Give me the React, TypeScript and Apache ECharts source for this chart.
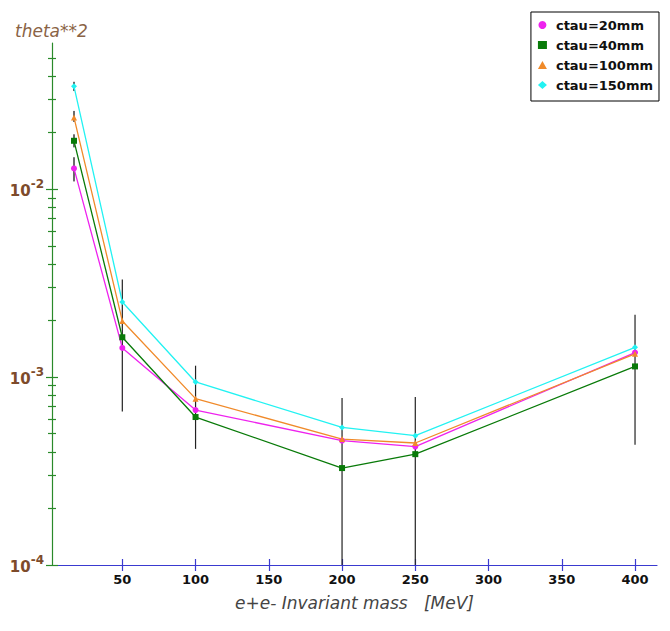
import React, { useEffect, useRef } from 'react';
import * as echarts from 'echarts';

// ---- data ----
const masses = [17, 50, 100, 200, 250, 400];
const ctau20 = [0.0129, 1.43e-3, 6.68e-4, 4.59e-4, 4.27e-4, 1.35e-3];
const ctau40 = [0.0181, 1.63e-3, 6.13e-4, 3.28e-4, 3.89e-4, 1.14e-3];
const ctau100 = [0.0241, 1.99e-3, 7.68e-4, 4.68e-4, 4.46e-4, 1.33e-3];
const ctau150 = [0.0353, 2.51e-3, 9.42e-4, 5.4e-4, 4.88e-4, 1.44e-3];
const seriesNames = ['ctau=20mm', 'ctau=40mm', 'ctau=100mm', 'ctau=150mm'];

// main error bars
const errMass = [50, 100, 200, 250, 400];
const errLow = [6.57e-4, 4.15e-4, 5e-5, 5e-5, 4.37e-4];
const errHigh = [3.31e-3, 1.15e-3, 7.74e-4, 7.84e-4, 2.15e-3];
// small error bars at the first mass point, one per series
const errSmallMass = [17, 17, 17, 17];
const errSmallLow = [0.011, 0.0167, 0.0228, 0.0333];
const errSmallHigh = [0.0148, 0.0196, 0.0261, 0.0373];

// axis ticks
const xTicks = [50, 100, 150, 200, 250, 300, 350, 400];
const yMajorTicks = [1e-4, 1e-3, 1e-2];
const yMinorTicks = [
  2e-4, 3e-4, 4e-4, 5e-4, 6e-4, 7e-4, 8e-4, 9e-4,
  2e-3, 3e-3, 4e-3, 5e-3, 6e-3, 7e-3, 8e-3, 9e-3,
  2e-2, 3e-2, 4e-2, 5e-2,
];

const X_MIN = 2;
const X_MAX = 415;
const Y_MIN = 1e-4;
const Y_MAX = 0.06;

const FONT = 'DejaVu Sans';
const BROWN = '#7d4b2b';
const GREEN_AXIS = '#2a8a2a';
const BLUE_AXIS = '#3a3ad0';

function pairs(xs: number[], ys: number[]) {
  return xs.map((x, i) => [x, ys[i]]);
}
function triples(xs: number[], lo: number[], hi: number[]) {
  return xs.map((x, i) => [x, lo[i], hi[i]]);
}

function errRender(color: string, width: number) {
  return (params: any, api: any) => {
    const x = api.value(0);
    const p1 = api.coord([x, api.value(1)]);
    const p2 = api.coord([x, api.value(2)]);
    return {
      type: 'line',
      shape: { x1: p1[0], y1: p1[1], x2: p2[0], y2: p2[1] },
      style: { stroke: color, lineWidth: width },
    };
  };
}

function yAxisBase(extra: any) {
  return {
    type: 'log',
    logBase: 10,
    min: Y_MIN,
    max: Y_MAX,
    position: 'left',
    offset: 0,
    splitLine: { show: false },
    axisLine: { show: false },
    axisLabel: { show: false },
    ...extra,
  };
}

export default function App() {
  const ref = useRef<HTMLDivElement>(null);

  useEffect(() => {
    if (!ref.current) return;
    const chart = echarts.init(ref.current, undefined, { renderer: 'svg' });
    const colors = ['#ee22ee', '#087a08', '#f08a2a', '#22f2f2'];
    const symbols = ['circle', 'rect', 'triangle', 'diamond'];
    const values = [ctau20, ctau40, ctau100, ctau150];

    const lineSeries = values.map((v, i) => ({
      name: seriesNames[i],
      type: 'line',
      data: pairs(masses, v),
      symbol: symbols[i],
      symbolSize: 6,
      showSymbol: true,
      itemStyle: { color: colors[i] },
      lineStyle: { color: colors[i], width: 1.3 },
      z: 3,
    }));

    const option: any = {
      animation: false,
      textStyle: { fontFamily: FONT },
      color: colors,
      title: {
        text: 'theta**2',
        left: 10,
        top: 17,
        textStyle: {
          fontFamily: FONT,
          fontSize: 17,
          fontStyle: 'italic',
          fontWeight: 'normal',
          color: '#8a6345',
        },
      },
      legend: {
        orient: 'vertical',
        right: 11,
        top: 12,
        data: seriesNames.map((n, i) => ({ name: n, icon: symbols[i] })),
        itemWidth: 9,
        itemHeight: 8,
        itemGap: 6,
        padding: [6, 6, 9, 7],
        borderColor: '#000',
        borderWidth: 1,
        backgroundColor: '#fff',
        textStyle: {
          fontFamily: FONT,
          fontSize: 13,
          fontWeight: 'bold',
          color: '#111',
          lineHeight: 14,
          padding: [0, 0, 0, 4],
        },
      },
      grid: { left: 52, right: 13, top: 43, bottom: 66, containLabel: false },
      xAxis: [
        {
          type: 'value',
          min: X_MIN,
          max: X_MAX,
          name: 'e+e- Invariant mass   [MeV]',
          nameLocation: 'middle',
          nameGap: 29,
          nameTextStyle: {
            fontFamily: FONT,
            fontSize: 17,
            fontStyle: 'italic',
            color: '#444',
          },
          axisLine: { show: true, lineStyle: { color: BLUE_AXIS, width: 1.2 } },
          axisTick: {
            show: true,
            inside: false,
            length: 6,
            customValues: xTicks,
            lineStyle: { color: BLUE_AXIS, width: 1.2 },
          },
          axisLabel: {
            customValues: xTicks,
            margin: 8,
            fontFamily: FONT,
            fontSize: 13,
            fontWeight: 'bold',
            color: '#111',
          },
          splitLine: { show: false },
        },
        {
          type: 'value',
          min: X_MIN,
          max: X_MAX,
          position: 'bottom',
          offset: 0,
          axisLine: { show: false },
          axisTick: {
            show: true,
            inside: true,
            length: 6,
            customValues: xTicks,
            lineStyle: { color: BLUE_AXIS, width: 1.2 },
          },
          axisLabel: { show: false },
          splitLine: { show: false },
        },
      ],
      yAxis: [
        yAxisBase({
          axisLine: { show: true, lineStyle: { color: GREEN_AXIS, width: 1.2 } },
          axisTick: {
            show: true,
            inside: false,
            length: 6,
            customValues: yMajorTicks,
            lineStyle: { color: GREEN_AXIS, width: 1.2 },
          },
          axisLabel: {
            show: true,
            customValues: yMajorTicks,
            margin: 8,
            formatter: (v: number) => {
              const e = Math.round(Math.log10(v));
              return '{b|10}{s|' + e + '}';
            },
            rich: {
              b: {
                fontFamily: FONT,
                fontSize: 15,
                fontWeight: 'bold',
                color: BROWN,
                lineHeight: 16,
                padding: [3, 0, 0, 0],
              },
              s: {
                fontFamily: FONT,
                fontSize: 12,
                fontWeight: 'bold',
                color: BROWN,
                lineHeight: 12,
                padding: [0, 0, 10, 0],
              },
            },
          },
        }),
        yAxisBase({
          axisTick: {
            show: true,
            inside: true,
            length: 6,
            customValues: yMajorTicks,
            lineStyle: { color: GREEN_AXIS, width: 1.2 },
          },
        }),
        yAxisBase({
          axisTick: {
            show: true,
            inside: false,
            length: 4,
            customValues: yMinorTicks,
            lineStyle: { color: GREEN_AXIS, width: 1.2 },
          },
        }),
        yAxisBase({
          axisTick: {
            show: true,
            inside: true,
            length: 4,
            customValues: yMinorTicks,
            lineStyle: { color: GREEN_AXIS, width: 1.2 },
          },
        }),
      ],
      series: [
        {
          name: 'errMain',
          type: 'custom',
          renderItem: errRender('#222', 1.2),
          data: triples(errMass, errLow, errHigh),
          encode: { x: 0, y: [1, 2] },
          clip: true,
          silent: true,
          z: 1,
        },
        {
          name: 'errSmall',
          type: 'custom',
          renderItem: errRender('#6a6a6a', 2),
          data: triples(errSmallMass, errSmallLow, errSmallHigh),
          encode: { x: 0, y: [1, 2] },
          clip: true,
          silent: true,
          z: 1,
        },
        ...lineSeries,
      ],
    };

    chart.setOption(option);
    return () => chart.dispose();
  }, []);

  return (
    <div
      ref={ref}
      style={{ position: 'absolute', left: 0, top: 0, width: 670, height: 631, background: '#fff' }}
    />
  );
}
